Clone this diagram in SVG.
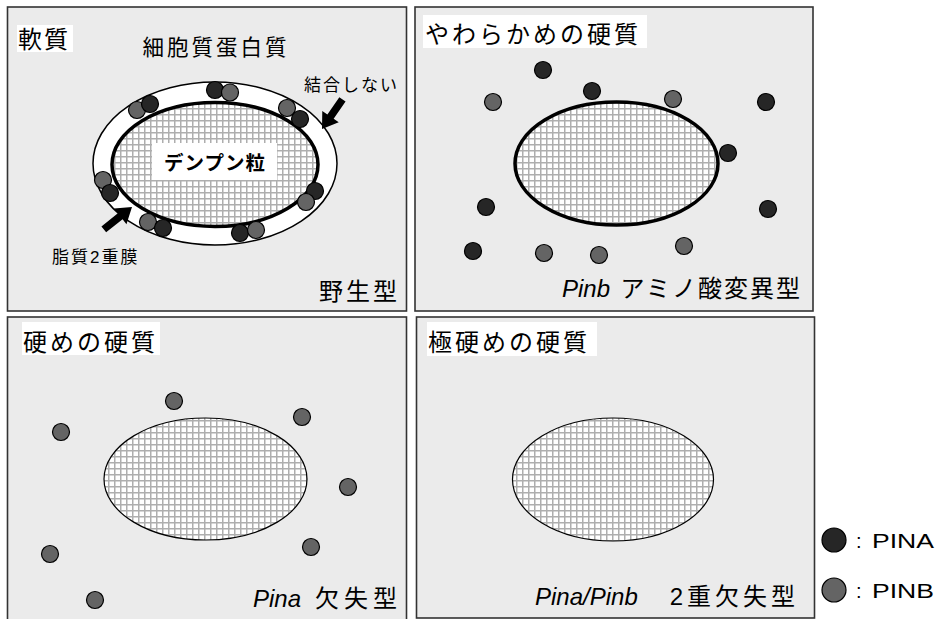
<svg xmlns="http://www.w3.org/2000/svg" width="941" height="619" viewBox="0 0 941 619">
  <defs>
    <!-- starch granule cross-hatch -->
    <pattern id="grid" patternUnits="userSpaceOnUse" width="6" height="6">
      <rect width="6" height="6" fill="#ffffff"/>
      <path d="M0 0.75H6M0.75 0V6" stroke="#aeaeae" stroke-width="1.5" fill="none"/>
    </pattern>
    <!-- block arrow, tip at origin, pointing +x -->
    <polygon id="blockArrow" points="-36,-3.8 -15,-3.8 -15,-10 0,0 -15,10 -15,3.8 -36,3.8" fill="#000"/>
    <style>
      .panel { fill: #ebebeb; stroke: #333333; stroke-width: 1.6; }
      .tag { fill: #ffffff; }
      .jp { font-family: "Liberation Sans", "Noto Sans CJK JP", sans-serif; fill: #000; }
      .title { font-size: 24px; }
      .ls3 { letter-spacing: 3px; }
      .sub { font-size: 17px; letter-spacing: 2px; }
      .it { font-style: italic; }
      .pa { fill: #262626; stroke: #000; stroke-width: 1.2; }
      .pb { fill: #646464; stroke: #000; stroke-width: 1.2; }
      .granule { fill: url(#grid); stroke: #000; }
    </style>
  </defs>

  <!-- wild type: soft -->
  <g id="panel-soft">
    <rect class="panel" x="7.5" y="7" width="399" height="304"/>
    <rect class="tag" x="17" y="25" width="56" height="27"/>
    <text class="jp title" x="18" y="48" letter-spacing="2">軟質</text>
    <text class="jp" x="216" y="55" text-anchor="middle" font-size="21.5" letter-spacing="3">細胞質蛋白質</text>
    <ellipse cx="215" cy="163.5" rx="122" ry="81.5" fill="#ffffff" stroke="#000" stroke-width="1.5"/>
    <ellipse class="granule" cx="215" cy="164.5" rx="103" ry="62" stroke-width="3.5"/>
    <rect x="152" y="143" width="125" height="37" fill="#ffffff"/>
    <text class="jp" x="215" y="170" text-anchor="middle" font-size="19.5" font-weight="bold" letter-spacing="1">デンプン粒</text>
    <circle class="pa" cx="215" cy="90" r="8.5"/>
    <circle class="pb" cx="230" cy="92.5" r="8.5"/>
    <circle class="pb" cx="137" cy="110" r="8.5"/>
    <circle class="pa" cx="150" cy="104" r="8.5"/>
    <circle class="pb" cx="287" cy="108" r="8.5"/>
    <circle class="pa" cx="300" cy="119" r="8.5"/>
    <circle class="pb" cx="103" cy="180" r="8.5"/>
    <circle class="pa" cx="110" cy="193" r="8.5"/>
    <circle class="pa" cx="315" cy="191" r="8.5"/>
    <circle class="pb" cx="306" cy="202" r="8.5"/>
    <circle class="pb" cx="148" cy="222" r="8.5"/>
    <circle class="pa" cx="163" cy="228" r="8.5"/>
    <circle class="pa" cx="240" cy="233" r="8.5"/>
    <circle class="pb" cx="256" cy="230" r="8.5"/>
    <use href="#blockArrow" transform="translate(322,129) rotate(124.6)"/>
    <use href="#blockArrow" transform="translate(132,207) rotate(-38.4)"/>
    <text class="jp sub" x="399" y="91" text-anchor="end">結合しない</text>
    <text class="jp sub" x="52" y="263" letter-spacing="2.5">脂質2重膜</text>
    <text class="jp title ls3" x="400" y="300" text-anchor="end">野生型</text>
  </g>

  <!-- Pinb amino acid variant: medium hard -->
  <g id="panel-medium">
    <rect class="panel" x="415" y="7" width="398" height="304"/>
    <rect class="tag" x="423" y="15" width="224" height="33"/>
    <text class="jp title ls3" x="425" y="43">やわらかめの硬質</text>
    <ellipse class="granule" cx="616.5" cy="163.5" rx="101.5" ry="61.5" stroke-width="3.5"/>
    <circle class="pa" cx="543" cy="70" r="8.5"/>
    <circle class="pa" cx="592" cy="91" r="8.5"/>
    <circle class="pb" cx="493" cy="102" r="8.5"/>
    <circle class="pb" cx="673" cy="99" r="8.5"/>
    <circle class="pa" cx="766" cy="102" r="8.5"/>
    <circle class="pa" cx="728" cy="153" r="8.5"/>
    <circle class="pa" cx="486" cy="207" r="8.5"/>
    <circle class="pa" cx="768" cy="209" r="8.5"/>
    <circle class="pa" cx="473" cy="251" r="8.5"/>
    <circle class="pb" cx="544" cy="253" r="8.5"/>
    <circle class="pb" cx="599" cy="255" r="8.5"/>
    <circle class="pb" cx="684" cy="246" r="8.5"/>
    <text class="jp title it" x="562" y="297">Pinb</text>
    <text class="jp title" x="802" y="297" text-anchor="end" letter-spacing="2">アミノ酸変異型</text>
  </g>

  <!-- Pina null: hard -->
  <g id="panel-hard">
    <rect class="panel" x="7.5" y="317" width="399" height="310"/>
    <rect class="tag" x="22" y="322" width="138" height="33"/>
    <text class="jp title ls3" x="23" y="351">硬めの硬質</text>
    <ellipse class="granule" cx="205.5" cy="479" rx="101.5" ry="61" stroke-width="1.2"/>
    <circle class="pb" cx="174" cy="401" r="8.5"/>
    <circle class="pb" cx="302" cy="417" r="8.5"/>
    <circle class="pb" cx="61" cy="432" r="8.5"/>
    <circle class="pb" cx="348" cy="487" r="8.5"/>
    <circle class="pb" cx="50" cy="554" r="8.5"/>
    <circle class="pb" cx="311" cy="547" r="8.5"/>
    <circle class="pb" cx="95" cy="600" r="8.5"/>
    <text class="jp title it" x="253" y="607">Pina</text>
    <text class="jp title" x="402" y="607" text-anchor="end" letter-spacing="5">欠失型</text>
  </g>

  <!-- Pina/Pinb double null: very hard -->
  <g id="panel-veryhard">
    <rect class="panel" x="416.5" y="317" width="398" height="301"/>
    <rect class="tag" x="427" y="322" width="170" height="34"/>
    <text class="jp title ls3" x="428" y="351">極硬めの硬質</text>
    <ellipse class="granule" cx="613" cy="479.5" rx="100.5" ry="61.5" stroke-width="1.2"/>
    <text class="jp title it" x="535" y="605" font-size="25">Pina/Pinb</text>
    <text class="jp title" x="799" y="605" text-anchor="end" letter-spacing="4">2重欠失型</text>
  </g>

  <!-- legend -->
  <g id="legend-pina">
    <circle class="pa" cx="834" cy="540" r="12"/>
    <text class="jp" y="548" font-size="20"><tspan x="856">:</tspan><tspan x="872" textLength="62" lengthAdjust="spacingAndGlyphs">PINA</tspan></text>
  </g>
  <g id="legend-pinb">
    <circle class="pb" cx="834" cy="590" r="12"/>
    <text class="jp" y="598" font-size="20"><tspan x="856">:</tspan><tspan x="872" textLength="62" lengthAdjust="spacingAndGlyphs">PINB</tspan></text>
  </g>

  <g id="connectors"/>
</svg>
